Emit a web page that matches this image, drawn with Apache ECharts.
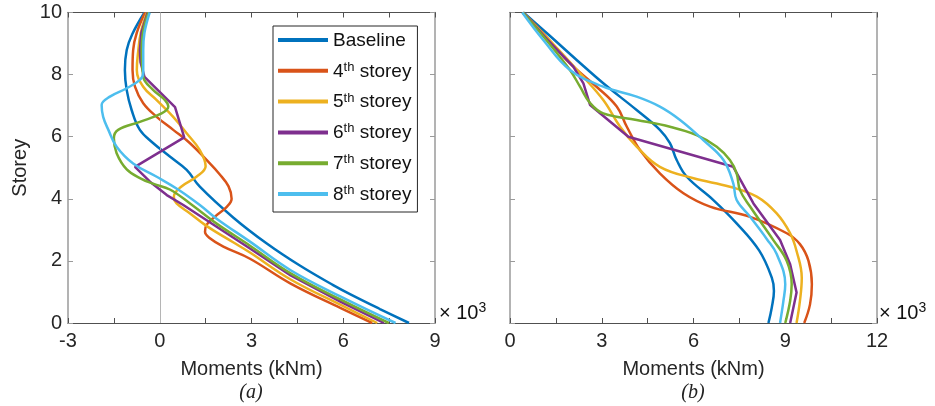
<!DOCTYPE html>
<html>
<head>
<meta charset="utf-8">
<script src="https://cdn.jsdelivr.net/npm/echarts@6/dist/echarts.min.js"></script>
<style>html,body{margin:0;padding:0;background:#fff;}#c{width:935px;height:406px;}</style>
</head>
<body>
<div id="c"></div>
<script>
// ---------- data (moments in 10^3 kNm, storey) ----------
const seriesNames = ['Baseline', '4th storey', '5th storey', '6th storey', '7th storey', '8th storey'];
const colors = ['#0072BD', '#D95319', '#EDB120', '#7E2F8E', '#77AC30', '#4DBEEE'];
const xTickLabelsA = [-3, 0, 3, 6, 9];
const xTickLabelsB = [0, 3, 6, 9, 12];
const yTickLabels = [0, 2, 4, 6, 8, 10];

// panel (a)
const baseA = [[8.15,0],[7.2,0.45],[6.22,0.93],[5.67,1.22],[4.58,1.85],[3.5,2.56],[2.4,3.4],[1.31,4.39],[0.88,4.93],[0.33,5.36],[-0.21,5.79],[-0.65,6.22],[-0.92,6.86],[-1.08,7.5],[-1.14,8.15],[-1.08,8.79],[-0.9,9.3],[-0.5,10]];
const st4A = [[6.95,0],[5.92,0.48],[4.28,1.27],[2.95,2.07],[2.08,2.46],[1.64,2.73],[1.48,2.94],[1.53,3.16],[1.8,3.42],[2.2,3.75],[2.35,4.0],[2.25,4.4],[1.95,4.8],[1.53,5.25],[0.99,5.79],[0.44,6.22],[-0.1,6.64],[-0.54,7.08],[-0.81,7.61],[-0.89,8.15],[-0.87,8.79],[-0.75,9.35],[-0.48,10]];
const st5A = [[7.11,0],[5.92,0.58],[4.28,1.4],[2.95,2.27],[2.4,2.6],[1.86,2.92],[1.48,3.16],[0.99,3.53],[0.55,3.85],[0.46,4.07],[0.7,4.39],[1.2,4.71],[1.5,5.05],[1.31,5.57],[0.88,6.11],[0.44,6.64],[-0.1,7.18],[-0.54,7.61],[-0.75,8.15],[-0.7,8.79],[-0.62,9.35],[-0.42,10]];
const st6A = [[7.33,0],[5.92,0.68],[4.28,1.53],[2.95,2.4],[1.86,3.1],[0.77,3.8],[0.23,4.12],[-0.32,4.55],[-0.81,5.03],[0.8,5.98],[0.5,6.95],[-0.5,7.93],[-0.63,8.4],[-0.65,8.79],[-0.6,9.35],[-0.4,10]];
const st7A = [[7.49,0],[5.92,0.75],[4.28,1.6],[2.95,2.49],[1.86,3.2],[0.99,3.85],[0.33,4.3],[-0.2,4.48],[-0.6,4.64],[-1.08,4.95],[-1.41,5.47],[-1.5,5.95],[-1.36,6.22],[-0.65,6.48],[0.06,6.75],[0.28,6.97],[0.17,7.18],[-0.21,7.5],[-0.54,7.93],[-0.59,8.79],[-0.55,9.35],[-0.37,10]];
const st8A = [[7.71,0],[5.92,0.85],[4.28,1.7],[2.95,2.62],[1.86,3.36],[1.31,3.8],[0.6,4.3],[-0.1,4.71],[-0.87,5.14],[-1.41,5.68],[-1.68,6.22],[-1.85,6.64],[-1.9,7.02],[-1.63,7.29],[-1.08,7.56],[-0.65,7.83],[-0.54,8.04],[-0.54,8.79],[-0.5,9.35],[-0.33,10]];

// panel (b)
const baseB = [[8.45,0],[8.56,0.5],[8.63,1.03],[8.56,1.46],[8.15,2.33],[7.41,3.21],[6.65,3.96],[5.78,4.71],[5.45,5.25],[5.23,5.79],[4.9,6.22],[4.14,6.86],[3.05,7.72],[2.18,8.47],[1.3,9.25],[0.44,10]];
const st4B = [[9.62,0],[9.81,0.6],[9.87,1.25],[9.76,2.0],[9.48,2.54],[9.05,2.89],[7.85,3.42],[6.54,3.75],[5.67,4.18],[4.9,4.82],[4.25,5.57],[3.82,6.32],[3.49,6.97],[2.83,7.61],[1.96,8.36],[1.2,9.2],[0.42,10]];
const st5B = [[9.37,0],[9.48,0.71],[9.54,1.46],[9.37,2.32],[9.16,2.89],[8.72,3.53],[8.07,4.07],[7.19,4.39],[6.0,4.66],[4.9,5.03],[4.14,5.68],[3.6,6.32],[3.05,7.18],[2.29,8.04],[1.3,9.1],[0.42,10]];
const st6B = [[9.16,0],[9.37,0.98],[9.16,1.89],[8.83,2.67],[7.96,3.85],[7.3,5.03],[3.87,6.0],[2.62,7.02],[2.4,7.72],[2.07,8.26],[1.2,9.15],[0.42,10]];
const st7B = [[9.0,0],[9.16,0.71],[9.21,1.25],[9.05,2.0],[8.61,2.67],[7.85,3.75],[7.52,4.28],[7.41,4.82],[7.19,5.25],[6.76,5.68],[6.1,6.05],[5.23,6.32],[4.14,6.54],[3.05,6.75],[2.62,7.08],[2.29,7.61],[1.96,8.15],[1.2,9.1],[0.42,10]];
const st8B = [[8.83,0],[8.94,0.71],[9.0,1.25],[8.72,2.22],[8.4,2.7],[7.85,3.42],[7.41,3.96],[7.3,4.5],[6.98,5.25],[6.32,5.89],[5.56,6.54],[4.9,6.97],[4.14,7.29],[3.05,7.61],[1.96,8.15],[1.1,9.1],[0.4,10]];

const zeroLineA = 0;

const panelA = [baseA, st4A, st5A, st6A, st7A, st8A];
const panelB = [baseB, st4B, st5B, st6B, st7B, st8B];
const smoothFlags = [true, true, true, false, true, true];

// ---------- chart ----------
const FONT = 'Liberation Sans, Arial, sans-serif';
const TXT = '#262626';
const HLINE = '#505050';
const VLINE = '#9a9a9a';

function xAxisDef(gridIndex, min, max, pos, showLabels, labels) {
  return {
    type: 'value', gridIndex, min, max, interval: 1.5, position: pos,
    axisLine: { show: true, onZero: false, lineStyle: { color: HLINE, width: 1 } },
    axisTick: { show: true, inside: true, length: 5, lineStyle: { color: HLINE } },
    splitLine: { show: false },
    axisLabel: {
      show: showLabels, margin: 8, fontSize: 20, fontFamily: FONT, color: TXT,
      formatter: v => labels.some(l => Math.abs(l - v) < 1e-9) ? String(Math.round(v)) : ''
    },
    name: showLabels ? 'Moments (kNm)' : '', nameLocation: 'middle', nameGap: 36,
    nameTextStyle: { fontSize: 20, fontFamily: FONT, color: TXT }
  };
}
function yAxisDef(gridIndex, pos, showLabels) {
  return {
    type: 'value', gridIndex, min: 0, max: 10, interval: 2, position: pos,
    axisLine: { show: true, onZero: false, lineStyle: { color: VLINE, width: 1.5 } },
    axisTick: { show: true, inside: true, length: 5, lineStyle: { color: VLINE } },
    splitLine: { show: false },
    axisLabel: {
      show: showLabels, margin: 6, fontSize: 20, fontFamily: FONT, color: TXT,
      formatter: v => yTickLabels.includes(v) ? String(v) : ''
    },
    name: showLabels ? 'Storey' : '', nameLocation: 'middle', nameGap: 38,
    nameTextStyle: { fontSize: 20, fontFamily: FONT, color: TXT }
  };
}

const series = [];
[panelA, panelB].forEach((panel, p) => {
  panel.forEach((data, i) => {
    series.push({
      name: seriesNames[i], type: 'line', data,
      xAxisIndex: p * 2, yAxisIndex: p * 2,
      symbol: 'none', smooth: smoothFlags[i] ? 0.4 : false,
      lineStyle: { color: colors[i], width: 2.5 },
      itemStyle: { color: colors[i] }, z: 3 + i, animation: false
    });
  });
});
// thin vertical reference line at x = 0 in panel (a)
series.push({
  type: 'line', data: [], xAxisIndex: 0, yAxisIndex: 0, z: 2, animation: false,
  markLine: {
    silent: true, symbol: 'none', animation: false,
    label: { show: false },
    lineStyle: { color: '#b5b5b5', width: 1, type: 'solid' },
    data: [{ xAxis: zeroLineA }]
  }
});

function legendFmt(name) {
  const m = name.match(/^(\d+)th (.*)$/);
  if (m) return '{n|' + m[1] + '}{s|th}{n| ' + m[2] + '}';
  return '{n|' + name + '}';
}

const option = {
  animation: false,
  backgroundColor: '#fff',
  grid: [
    { left: 68, top: 12.5, width: 367, height: 310.5, containLabel: false, outerBoundsMode: 'none' },
    { left: 510, top: 12.5, width: 367, height: 310.5, containLabel: false, outerBoundsMode: 'none' }
  ],
  xAxis: [
    xAxisDef(0, -3, 9, 'bottom', true, xTickLabelsA),
    xAxisDef(0, -3, 9, 'top', false, xTickLabelsA),
    xAxisDef(1, 0, 12, 'bottom', true, xTickLabelsB),
    xAxisDef(1, 0, 12, 'top', false, xTickLabelsB)
  ],
  yAxis: [
    yAxisDef(0, 'left', true),
    yAxisDef(0, 'right', false),
    yAxisDef(1, 'left', false),
    yAxisDef(1, 'right', false)
  ],
  legend: {
    data: seriesNames, orient: 'vertical', left: 273, top: 26,
    padding: [5, 6, 8, 5], itemGap: 10.8, itemWidth: 50, itemHeight: 4,
    icon: 'rect', borderColor: '#262626', borderWidth: 1, backgroundColor: '#fff',
    formatter: legendFmt,
    textStyle: {
      color: '#111', fontFamily: FONT, fontSize: 19,
      rich: {
        n: { fontSize: 19, fontFamily: FONT, color: '#111', lineHeight: 20, verticalAlign: 'bottom' },
        s: { fontSize: 13, fontFamily: FONT, color: '#111', lineHeight: 13, verticalAlign: 'top' }
      }
    },
    selectedMode: false
  },
  graphic: [
    { type: 'text', left: 439, top: 301, z: 100, style: { text: '{a|× 10}{b|3}', rich: {
      a: { fontSize: 20, fontFamily: FONT, fill: '#111', lineHeight: 22, verticalAlign: 'bottom' },
      b: { fontSize: 14, fontFamily: FONT, fill: '#111', lineHeight: 14, verticalAlign: 'top' } } } },
    { type: 'text', left: 879, top: 301, z: 100, style: { text: '{a|× 10}{b|3}', rich: {
      a: { fontSize: 20, fontFamily: FONT, fill: '#111', lineHeight: 22, verticalAlign: 'bottom' },
      b: { fontSize: 14, fontFamily: FONT, fill: '#111', lineHeight: 14, verticalAlign: 'top' } } } },
    { type: 'text', x: 251, y: 393, z: 100, style: { text: '(a)', fontSize: 20, fontStyle: 'italic',
      fontFamily: 'Liberation Serif, Times New Roman, serif', fill: '#222', align: 'center', verticalAlign: 'middle' } },
    { type: 'text', x: 693, y: 393, z: 100, style: { text: '(b)', fontSize: 20, fontStyle: 'italic',
      fontFamily: 'Liberation Serif, Times New Roman, serif', fill: '#222', align: 'center', verticalAlign: 'middle' } }
  ],
  series
};

const chart = echarts.init(document.getElementById('c'), null, { renderer: 'canvas' });
chart.setOption(option);
</script>
</body>
</html>
